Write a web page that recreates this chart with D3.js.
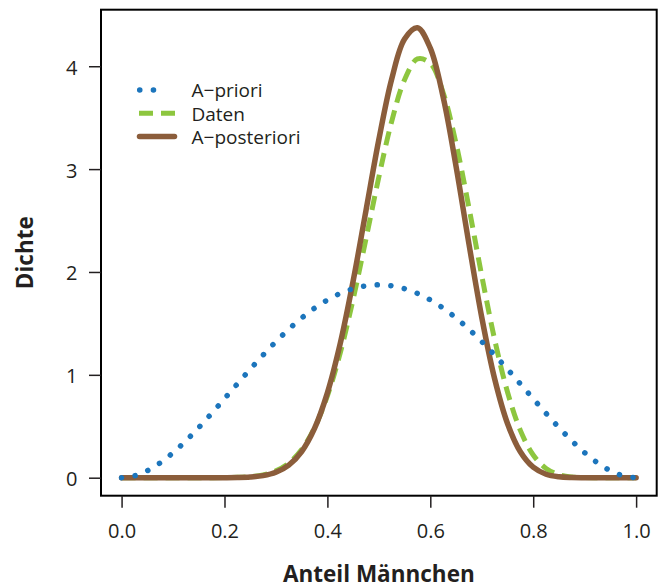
<!DOCTYPE html>
<html>
<head>
<meta charset="utf-8">
<script src="https://cdn.jsdelivr.net/npm/d3@7"></script>
<style>
  body { margin: 0; background: #fff; }
  svg { display: block; }
  text { font-family: "Open Sans", "Noto Sans", sans-serif; fill: #231f20; }
</style>
</head>
<body>
<svg id="chart" width="658" height="586"></svg>
<script>
// Anteil Männchen (x) at which the densities are tabulated
const share = [0, 0.025, 0.05, 0.075, 0.1, 0.125, 0.15, 0.175, 0.2, 0.225,
  0.25, 0.275, 0.3, 0.325, 0.35, 0.375, 0.4, 0.425, 0.45, 0.475,
  0.5, 0.525, 0.55, 0.575, 0.6, 0.625, 0.65, 0.675, 0.7, 0.725,
  0.75, 0.775, 0.8, 0.825, 0.85, 0.875, 0.9, 0.925, 0.95, 0.975, 1];

// A-priori density
const prior = [0, 0.0178, 0.0677, 0.1444, 0.243, 0.3589, 0.4877, 0.6253, 0.768, 0.9122,
  1.0547, 1.1925, 1.323, 1.4438, 1.5527, 1.6479, 1.728, 1.7916, 1.8377, 1.8656,
  1.875, 1.8656, 1.8377, 1.7916, 1.728, 1.6479, 1.5527, 1.4438, 1.323, 1.1925,
  1.0547, 0.9122, 0.768, 0.6253, 0.4877, 0.3589, 0.243, 0.1444, 0.0677, 0.0178, 0];

// Density of the data (likelihood)
const daten = [0, 0, 0, 0, 0, 0, 0.00003, 0.00018, 0.00086, 0.0033,
  0.0103, 0.0278, 0.0663, 0.1412, 0.2733, 0.485, 0.7958, 1.2149, 1.7341, 2.3215,
  2.9224, 3.4645, 3.8694, 4.0707, 4.029, 3.7423, 3.2506, 2.6276, 1.9639, 1.3446,
  0.8333, 0.4598, 0.2208, 0.0894, 0.0291, 0.007, 0.0011, 0.0001, 0, 0, 0];

// A-posteriori density
const posterior = [0, 0, 0, 0, 0, 0, 0.00001, 0.00007, 0.0004, 0.0018,
  0.0065, 0.0199, 0.0526, 0.1223, 0.2545, 0.4794, 0.8248, 1.3055, 1.9112, 2.5979,
  3.2864, 3.8764, 4.2653, 4.3746, 4.1754, 3.6989, 3.0275, 2.2755, 1.5585, 0.9617,
  0.5271, 0.2516, 0.1017, 0.0335, 0.0085, 0.0015, 0.0002, 0, 0, 0, 0];

const xTicks = [0, 0.2, 0.4, 0.6, 0.8, 1.0];
const yTicks = [0, 1, 2, 3, 4];
const legendLabels = ["A\u2212priori", "Daten", "A\u2212posteriori"];

const colors = { prior: "#1c75bc", daten: "#8dc63f", posterior: "#8b5d3b" };

const svg = d3.select("#chart");
const plotLeft = 101, plotRight = 656.7, plotTop = 9.7, plotBottom = 495.7;

// 4% padding on both axes
const yMax = d3.max(posterior);
const x = d3.scaleLinear().domain([-0.04, 1.04]).range([plotLeft, plotRight]);
const y = d3.scaleLinear().domain([-0.04 * yMax, 1.04 * yMax]).range([plotBottom, plotTop]);

const line = vals => d3.line()
  .x((d, i) => x(share[i]))
  .y(d => y(d))
  .curve(d3.curveCatmullRom)(vals);

const plot = svg.append("g").attr("fill", "none");

plot.append("path")
  .attr("d", line(daten))
  .attr("stroke", colors.daten)
  .attr("stroke-width", 5)
  .attr("stroke-dasharray", "14 8");

plot.append("path")
  .attr("d", line(posterior))
  .attr("stroke", colors.posterior)
  .attr("stroke-width", 5.5)
  .attr("stroke-linecap", "round")
  .attr("stroke-linejoin", "round");

plot.append("path")
  .attr("d", line(prior))
  .attr("stroke", colors.prior)
  .attr("stroke-width", 5.5)
  .attr("stroke-linecap", "round")
  .attr("stroke-dasharray", "0.1 13.6");

// frame
svg.append("rect")
  .attr("x", plotLeft).attr("y", plotTop)
  .attr("width", plotRight - plotLeft).attr("height", plotBottom - plotTop)
  .attr("fill", "none").attr("stroke", "#000").attr("stroke-width", 2);

// axes
const xAxis = svg.append("g")
  .attr("transform", `translate(0,${plotBottom})`)
  .call(d3.axisBottom(x).tickValues(xTicks).tickFormat(d3.format(".1f"))
    .tickSize(12).tickPadding(16));
const yAxis = svg.append("g")
  .attr("transform", `translate(${plotLeft},0)`)
  .call(d3.axisLeft(y).tickValues(yTicks).tickFormat(d3.format("d"))
    .tickSize(12).tickPadding(11.5));

[xAxis, yAxis].forEach(g => {
  g.select(".domain").remove();
  g.selectAll(".tick line").attr("stroke", "#231f20").attr("stroke-width", 1.5);
  g.selectAll(".tick text").attr("font-size", 20)
    .style("font-family", '"Open Sans", "Noto Sans", sans-serif').attr("fill", "#231f20");
});
yAxis.selectAll(".tick text").attr("dy", "0.4em");

// axis titles
svg.append("text")
  .attr("x", (plotLeft + plotRight) / 2).attr("y", 581.5)
  .attr("text-anchor", "middle")
  .attr("font-size", 22.5).attr("font-weight", 700)
  .text("Anteil Männchen");

svg.append("text")
  .attr("transform", `translate(33,${(plotTop + plotBottom) / 2}) rotate(-90)`)
  .attr("text-anchor", "middle")
  .attr("font-size", 22.5).attr("font-weight", 700)
  .text("Dichte");

// legend
const legendY = [90, 113.3, 136.5];
const legend = svg.append("g");
const styles = [
  { c: colors.prior, w: 5.5, dash: "0.1 13.6", cap: "round", x0: 139.7, x1: 167 },
  { c: colors.daten, w: 5, dash: "14 8", cap: "butt", x0: 139, x1: 175 },
  { c: colors.posterior, w: 5.5, dash: null, cap: "round", x0: 139.5, x1: 174.5 }
];
legendLabels.forEach((lab, i) => {
  const s = styles[i];
  legend.append("line")
    .attr("x1", s.x0).attr("x2", s.x1)
    .attr("y1", legendY[i]).attr("y2", legendY[i])
    .attr("stroke", s.c).attr("stroke-width", s.w)
    .attr("stroke-linecap", s.cap)
    .attr("stroke-dasharray", s.dash);
  legend.append("text")
    .attr("x", 191.5).attr("y", legendY[i] + 7.3)
    .attr("font-size", 19)
    .text(lab);
});
</script>
</body>
</html>
